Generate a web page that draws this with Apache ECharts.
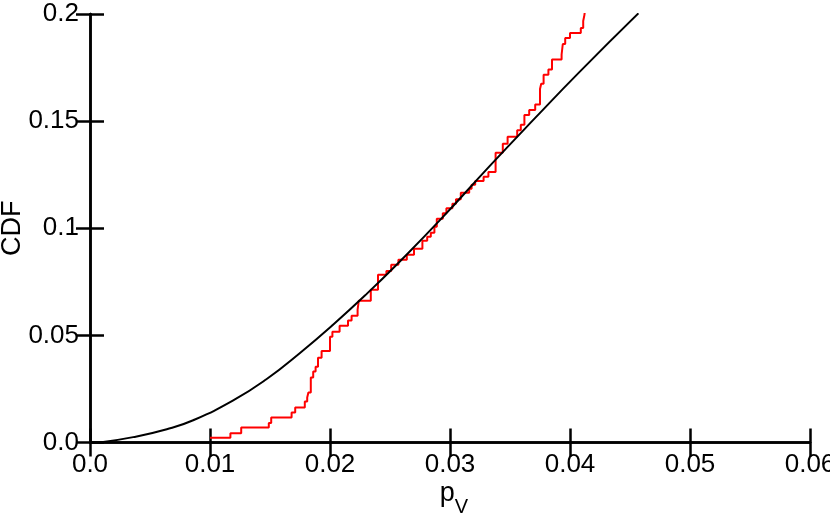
<!DOCTYPE html>
<html>
<head>
<meta charset="utf-8">
<script src="https://cdn.jsdelivr.net/npm/echarts@6/dist/echarts.min.js"></script>
<style>
  html, body { margin: 0; padding: 0; background: #fff; }
  #cdf { width: 830px; height: 525px; }
</style>
</head>
<body>
<div id="cdf"></div>
<script>
// empirical CDF (red steps): jump position, level after the jump
var empX = [0.0100, 0.0117, 0.0126, 0.0149, 0.0151, 0.0168, 0.0171, 0.0179, 0.0181, 0.0182,
            0.0184, 0.0186, 0.0188, 0.0190, 0.0193, 0.0200, 0.0202, 0.0208, 0.0215, 0.0218,
            0.0223, 0.0224, 0.0234, 0.0240, 0.0247, 0.0251, 0.0257, 0.0264, 0.0270, 0.0277,
            0.0281, 0.0284, 0.0287, 0.0289, 0.0294, 0.0297, 0.0302, 0.0305, 0.0309, 0.0316,
            0.0318, 0.0321, 0.0328, 0.0332, 0.0338, 0.0344, 0.0348, 0.0356, 0.0359, 0.0362,
            0.0366, 0.0371, 0.0375, 0.0376, 0.0378, 0.0382, 0.0385, 0.0393, 0.0394, 0.0396,
            0.0400, 0.0409, 0.0411, 0.0412, 0.0413];
var empF = [0.0022, 0.0043, 0.0070, 0.0091, 0.0117, 0.0140, 0.0163, 0.0191, 0.0210, 0.0233,
            0.0303, 0.0331, 0.0354, 0.0396, 0.0427, 0.0494, 0.0517, 0.0545, 0.0569, 0.0592,
            0.0620, 0.0662, 0.0713, 0.0783, 0.0800, 0.0830, 0.0853, 0.0876, 0.0904, 0.0942,
            0.0960, 0.0979, 0.1007, 0.1044, 0.1070, 0.1093, 0.1114, 0.1135, 0.1166, 0.1184,
            0.1203, 0.1221, 0.1240, 0.1263, 0.1352, 0.1394, 0.1427, 0.1457, 0.1483, 0.1529,
            0.1552, 0.1578, 0.1650, 0.1674, 0.1716, 0.1741, 0.1788, 0.1811, 0.1860, 0.1888,
            0.1911, 0.1935, 0.1967, 0.1995, 0.2040];

// fitted CDF (black curve)
var fitX = [0.0008, 0.0036, 0.0064, 0.0086, 0.0119, 0.0147, 0.0175, 0.0203, 0.0231,
            0.0258, 0.0292, 0.0333, 0.0371, 0.0408, 0.0457];
var fitF = [0.0000, 0.0025, 0.0062, 0.0104, 0.0195, 0.0295, 0.0418, 0.0552, 0.0696,
            0.0844, 0.1040, 0.1290, 0.1515, 0.1730, 0.2003];

var xTicks = ['0.0', '0.01', '0.02', '0.03', '0.04', '0.05', '0.06'];
var yTicks = ['0.0', '0.05', '0.1', '0.15', '0.2'];

function pairs(xs, ys) {
    var out = [];
    for (var i = 0; i < xs.length; i++) out.push([xs[i], ys[i]]);
    return out;
}

var font = '"Liberation Sans", Arial, Helvetica, sans-serif';
var frame = { show: true, lineStyle: { color: '#000', width: 2.5 } };
var ticks = { show: true, inside: true, length: 14, lineStyle: { color: '#000', width: 2.5 } };

var myChart = echarts.init(document.getElementById('cdf'));
var option = {
    animation: false,
    backgroundColor: '#fff',
    grid: { left: 90, right: 20, top: 14, bottom: 82.5, outerBoundsMode: 'none', containLabel: false },
    xAxis: [{
        type: 'value',
        min: 0, max: 0.06, interval: 0.01,
        position: 'bottom',
        axisLine: frame,
        axisTick: ticks,
        splitLine: { show: false },
        axisLabel: {
            color: '#000', fontSize: 26, fontFamily: font, margin: 9,
            showMaxLabel: true, hideOverlap: false,
            formatter: function (v) { return xTicks[Math.round(v / 0.01)]; }
        },
        name: '{p|p}{s|V}',
        nameLocation: 'middle',
        nameGap: 38,
        nameMoveOverlap: false,
        nameTextStyle: {
            padding: [0, 0, 0, 8],
            rich: {
                p: { fontSize: 27, fontFamily: font, color: '#000', verticalAlign: 'bottom', padding: [0, 0, 10, 0] },
                s: { fontSize: 20, fontFamily: font, color: '#000', verticalAlign: 'bottom' }
            }
        }
    }, {
        type: 'value',
        min: 0, max: 0.06, interval: 0.01,
        position: 'top',
        axisLine: frame,
        axisTick: ticks,
        axisLabel: { show: false },
        splitLine: { show: false }
    }],
    yAxis: [{
        type: 'value',
        min: 0, max: 0.2, interval: 0.05,
        position: 'left',
        axisLine: frame,
        axisTick: ticks,
        splitLine: { show: false },
        axisLabel: {
            color: '#000', fontSize: 26, fontFamily: font, margin: 11,
            showMaxLabel: true, hideOverlap: false,
            formatter: function (v) { return yTicks[Math.round(v / 0.05)]; }
        },
        name: 'CDF',
        nameLocation: 'middle',
        nameRotate: 90,
        nameGap: 64,
        nameMoveOverlap: false,
        nameTextStyle: { color: '#000', fontSize: 27, fontFamily: font }
    }, {
        type: 'value',
        min: 0, max: 0.2, interval: 0.05,
        position: 'right',
        axisLine: frame,
        axisTick: ticks,
        axisLabel: { show: false },
        splitLine: { show: false }
    }],
    series: [{
        name: 'empirical',
        type: 'line',
        step: 'end',
        symbol: 'none',
        clip: true,
        lineStyle: { color: '#ff0000', width: 2 },
        data: pairs(empX, empF)
    }, {
        name: 'fit',
        type: 'line',
        smooth: 0.5,
        symbol: 'none',
        clip: true,
        lineStyle: { color: '#000', width: 2 },
        data: pairs(fitX, fitF)
    }]
};
myChart.setOption(option);
</script>
</body>
</html>
